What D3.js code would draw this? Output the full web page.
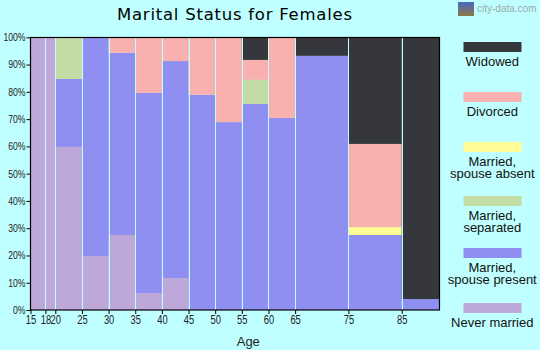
<!DOCTYPE html>
<html><head><meta charset="utf-8">
<script src="https://cdn.jsdelivr.net/npm/d3@7"></script>
<style>
body{margin:0;background:#c0ffff;}
svg{display:block;}
.tick text{font-family:"Liberation Sans",Arial,sans-serif;fill:#222;}
</style></head>
<body><svg id="chart" width="540" height="350"></svg>
<script>
const ageStarts = [15,18,20,25,30,35,40,45,50,55,60,65,75,85];
const ageEnds   = [18,20,25,30,35,40,45,50,55,60,65,75,85,92];
const xTickValues = [15,18,20,25,30,35,40,45,50,55,60,65,75,85];
const yTickValues = [0,10,20,30,40,50,60,70,80,90,100];
const seriesNames = ["Never married","Married, spouse present","Married, separated","Married, spouse absent","Divorced","Widowed"];
const neverMarried  = [100,100,59.8,19.8,27.5,6.2,11.7,0,0,0,0,0,0,0];
const spousePresent = [0,0,24.9,80.2,66.8,73.4,79.6,78.9,68.9,75.6,70.4,93.2,27.5,4.0];
const separated     = [0,0,15.3,0,0,0,0,0,0,8.8,0,0,0,0];
const spouseAbsent  = [0,0,0,0,0,0,0,0,0,0,0,0,2.9,0];
const divorced      = [0,0,0,0,5.7,20.4,8.7,21.1,31.1,7.3,29.6,0,30.5,0];
const widowed       = [0,0,0,0,0,0,0,0,0,8.3,0,6.8,39.1,96.0];
const colors = ["#bea8d9","#8f8ff1","#c3dba5","#fffb97","#f9b1b0","#36373c"];

const seriesValues = [neverMarried,spousePresent,separated,spouseAbsent,divorced,widowed];
const rows = ageStarts.map((s,i)=>{
  const r = {start:s,end:ageEnds[i]};
  seriesNames.forEach((n,k)=>r[n]=seriesValues[k][i]);
  return r;
});

const svg = d3.select("#chart");
const x = d3.scaleLinear().domain([15,20,85,92]).range([30.5,55.3,401.7,439.3]);
const y = d3.scaleLinear().domain([0,100]).range([310,37.3]);

const stack = d3.stack().keys(seriesNames)(rows);
const g = svg.append("g");
stack.forEach((layer,k)=>{
  g.selectAll(null).data(layer.filter(d=>d[1]-d[0]>0)).enter().append("rect")
    .attr("x",d=>x(d.data.start))
    .attr("width",d=>x(d.data.end)-x(d.data.start))
    .attr("y",d=>y(d[1]))
    .attr("height",d=>y(d[0])-y(d[1]))
    .attr("fill",colors[k]);
});
// separators
g.selectAll(null).data(ageStarts.slice(1)).enter().append("line")
  .attr("x1",d=>Math.round(x(d))+0.5).attr("x2",d=>Math.round(x(d))+0.5)
  .attr("y1",y(100)).attr("y2",y(0))
  .attr("stroke","#c0ffff").attr("stroke-width",1);

// frame
svg.append("rect").attr("x",30.5).attr("y",37.5).attr("width",409).attr("height",272.5)
  .attr("fill","none").attr("stroke","#000").attr("stroke-width",1.2);

const xAxis = svg.append("g").attr("transform","translate(0,310)")
  .call(d3.axisBottom(x).tickValues(xTickValues).tickSize(4).tickPadding(1).tickFormat(d=>d));
xAxis.select(".domain").remove();
xAxis.selectAll(".tick text").attr("font-size",13);
const yAxis = svg.append("g").attr("transform","translate(30.5,0)")
  .call(d3.axisLeft(y).tickValues(yTickValues).tickSize(4).tickPadding(1).tickFormat(d=>d+"%"));
yAxis.select(".domain").remove();
yAxis.selectAll(".tick text").attr("font-size",10.5);
svg.selectAll(".tick line").attr("stroke","#000");
xAxis.selectAll(".tick text").each(function(){
  const w = this.getComputedTextLength();
  d3.select(this).attr("textLength", w*0.72).attr("lengthAdjust","spacingAndGlyphs");
});
yAxis.selectAll(".tick text").each(function(){
  const w = this.getComputedTextLength();
  d3.select(this).attr("textLength", w*0.82).attr("lengthAdjust","spacingAndGlyphs");
});

svg.append("text").attr("x",234.5).attr("y",20).attr("text-anchor","middle")
  .attr("font-family","DejaVu Sans, Verdana, sans-serif").attr("font-size",16.5).attr("fill","#000")
  .attr("textLength",235).attr("lengthAdjust","spacing")
  .text("Marital Status for Females");
svg.append("text").attr("x",248.3).attr("y",346).attr("text-anchor","middle")
  .attr("font-family","Liberation Sans, Arial, sans-serif").attr("font-size",13).attr("fill","#222")
  .text("Age");

// watermark
const logo = svg.append("g");
const lg = svg.append("defs").append("linearGradient").attr("id","lg").attr("x1",0).attr("y1",0).attr("x2",0).attr("y2",1);
lg.append("stop").attr("offset","0%").attr("stop-color","#4a66c8");
lg.append("stop").attr("offset","100%").attr("stop-color","#8a7a40");
logo.append("rect").attr("x",458).attr("y",2).attr("width",16).attr("height",14).attr("fill","url(#lg)");
logo.append("text").attr("x",477).attr("y",12).attr("font-family","Liberation Sans, Arial, sans-serif")
  .attr("font-size",10).attr("fill","#9aa").text("city-data.com");

// legend (top to bottom: reverse of stack)
const legendItems = seriesNames.map((n,k)=>({name:n,color:colors[k]})).reverse();
const legendLines = [["Widowed"],["Divorced"],["Married,","spouse absent"],["Married,","separated"],["Married,","spouse present"],["Never married"]];
const legendRectY = [42,92,142,196,248,303];
const lgd = svg.append("g");
legendItems.forEach((it,i)=>{
  lgd.append("rect").attr("x",463.5).attr("y",legendRectY[i]).attr("width",58).attr("height",10).attr("fill",it.color);
  legendLines[i].forEach((t,j)=>{
    lgd.append("text").attr("x",492.3).attr("y",legendRectY[i]+24+j*11.5).attr("text-anchor","middle")
      .attr("font-family","Liberation Sans, Arial, sans-serif").attr("font-size",13).attr("fill","#111").text(t);
  });
});
</script></body></html>
